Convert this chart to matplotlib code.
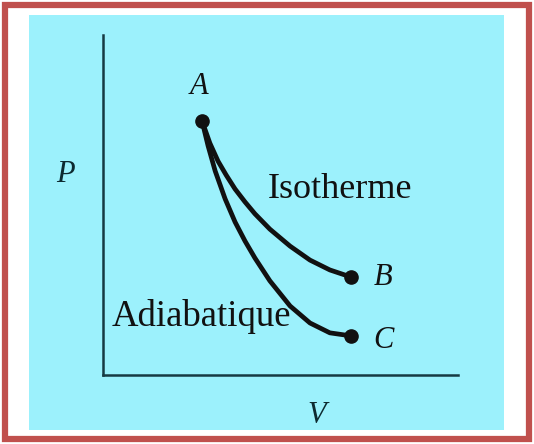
"""P-V diagram: isotherme and adiabatique from A."""

import matplotlib.pyplot as plt
from matplotlib.patches import Rectangle

# curves (V, P in arbitrary units)
iso_v = [2.79, 3.01, 3.24, 3.47, 3.72, 4.00, 4.28, 4.70, 5.27, 5.83, 6.39, 6.99]
iso_p = [7.47, 6.82, 6.29, 5.88, 5.47, 5.09, 4.74, 4.29, 3.79, 3.38, 3.09, 2.88]
adi_v = [2.79, 2.96, 3.16, 3.44, 3.72, 4.00, 4.28, 4.70, 5.27, 5.83, 6.39, 6.99]
adi_p = [7.47, 6.74, 6.00, 5.18, 4.50, 3.94, 3.44, 2.77, 2.03, 1.53, 1.24, 1.15]
point_names = ["A", "B", "C"]
point_v = [2.79, 6.99, 6.99]
point_p = [7.47, 2.88, 1.15]

W, H = 534, 444
CYAN = "#9cf1fc"
INK = "#111111"
AXIS = "#163a42"
SERIF = "Liberation Serif"


def fx(x):
    return x / W


def fy(y):
    return 1 - y / H


fig = plt.figure(figsize=(W / 100, H / 100), dpi=100)
fig.patch.set_facecolor("white")

# cyan panel and red frame
fig.patches.append(Rectangle((fx(29), fy(430)), fx(475), 415 / H,
                             transform=fig.transFigure, facecolor=CYAN,
                             edgecolor="none", zorder=0))
fig.patches.append(Rectangle((fx(5), fy(439)), fx(524), 434 / H,
                             transform=fig.transFigure, facecolor="none",
                             edgecolor="#c0504d", linewidth=4.5, zorder=1))

ax = fig.add_axes([fx(103), fy(375), fx(355), 340 / H])
ax.set_zorder(3)
ax.set_facecolor("none")
ax.set_xlim(0, 10)
ax.set_ylim(0, 10)
for side in ["top", "right"]:
    ax.spines[side].set_visible(False)
for side in ["left", "bottom"]:
    ax.spines[side].set_color(AXIS)
    ax.spines[side].set_linewidth(1.8)
ax.set_xticks([])
ax.set_yticks([])

ax.plot(iso_v, iso_p, color=INK, linewidth=3.4, solid_capstyle="round",
        solid_joinstyle="round")
ax.plot(adi_v, adi_p, color=INK, linewidth=3.4, solid_capstyle="round",
        solid_joinstyle="round")
ax.plot(point_v, point_p, "o", color=INK, markersize=9.5, linestyle="none")

# point labels
label_offsets = {"A": (-3, 35), "B": (32, 0), "C": (32, -5)}
for name, v, p in zip(point_names, point_v, point_p):
    dx, dy = label_offsets[name]
    ax.annotate(name, (v, p), xytext=(dx, dy), textcoords="offset pixels",
                ha="center", va="center", fontsize=22, style="italic",
                family=SERIF, color=INK, annotation_clip=False)

fig.text(fx(65), fy(174), "P", ha="center", va="center", fontsize=22,
         style="italic", family=SERIF, color="#0d2a30", zorder=4)
fig.text(fx(317), fy(415), "V", ha="center", va="center", fontsize=22,
         style="italic", family=SERIF, color="#0d2a30", zorder=4)
fig.text(fx(268), fy(198), "Isotherme", ha="left", va="baseline",
         fontsize=26, family=SERIF, color=INK, zorder=4)
fig.text(fx(112), fy(326), "Adiabatique", ha="left", va="baseline",
         fontsize=26.5, family=SERIF, color=INK, zorder=4)

fig.savefig("out.png", dpi=100)
